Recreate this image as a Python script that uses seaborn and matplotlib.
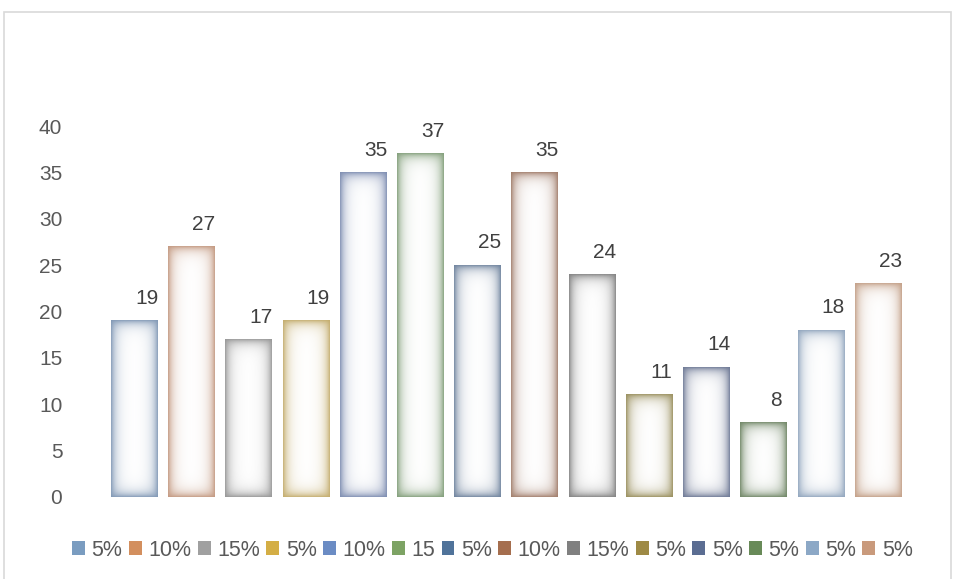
import numpy as np
import matplotlib
matplotlib.use("Agg")
import matplotlib.pyplot as plt
from matplotlib.patches import Patch, Rectangle
import seaborn as sns

# Bar values (left to right)
values = [19, 27, 17, 19, 35, 37, 25, 35, 24, 11, 14, 8, 18, 23]
# Legend entries, one per bar
legend_labels = ["5%", "10%", "15%", "5%", "10%", "15", "5%",
                 "10%", "15%", "5%", "5%", "5%", "5%", "5%"]
# Category keys for the x axis
categories = [f"c{i + 1}" for i in range(len(values))]
# Y axis ticks
y_ticks = [0, 5, 10, 15, 20, 25, 30, 35, 40]

# Glow colours around each bar and solid swatch colours in the legend
glow_colors = ["#8299b6", "#c49a82", "#989898", "#c4ad6e", "#7f8eb2", "#84a07c",
               "#71859f", "#a27e6c", "#848484", "#9b9160", "#6f7a96", "#728868",
               "#93a7bf", "#c4a189"]
swatch_colors = ["#7a9cc0", "#d38f5e", "#a0a0a0", "#d4ae45", "#6b8cc4", "#7da364",
                 "#50739a", "#a56e4e", "#808080", "#9e8a45", "#5b6d92", "#688a58",
                 "#8ca8c6", "#c99a7c"]

sns.set_theme(style="white")
plt.rcParams["font.family"] = ["Liberation Sans", "DejaVu Sans"]

W, H = 955, 579
fig = plt.figure(figsize=(W / 100, H / 100), dpi=100)
fig.patch.set_facecolor("white")

# light frame around the whole chart
fig.patches.append(Rectangle((4 / W, -10 / H), 947 / W, 577 / H, transform=fig.transFigure,
                             fill=False, edgecolor="#d9d9d9", linewidth=1.2))

ax = fig.add_axes([105.4 / W, (H - 497) / H, 801.2 / W, 371 / H])

sns.barplot(x=categories, y=values, hue=categories, palette=["white"] * len(values),
            width=0.81, legend=False, linewidth=0, ax=ax)

ax.set_xlim(-0.5, len(values) - 0.5)
ax.set_ylim(0, 40)

# soft inner glow in each bar's colour, fading toward the white centre
ppx = ax.transData.transform((1, 0))[0] - ax.transData.transform((0, 0))[0]
ppy = ax.transData.transform((0, 1))[1] - ax.transData.transform((0, 0))[1]


def profile(d):
    return 0.97 * np.exp(-d / 5.0)


for patch, col in zip(ax.patches, glow_colors):
    x0, w, h = patch.get_x(), patch.get_width(), patch.get_height()
    nw = max(int(round(w * ppx)), 2)
    nh = max(int(round(h * ppy)), 2)
    jx = np.arange(nw) + 0.5
    jy = np.arange(nh) + 0.5
    dx = np.minimum(jx, nw - jx)
    dy = np.minimum(jy, nh - jy)
    ax_ = profile(dx)[None, :]
    ay_ = profile(dy)[:, None]
    alpha = 1 - (1 - ax_) * (1 - ay_)
    rgb = np.array(matplotlib.colors.to_rgb(col))
    img = np.zeros((nh, nw, 4))
    img[..., :3] = rgb
    img[..., 3] = alpha
    ax.imshow(img, extent=(x0, x0 + w, 0, h), aspect="auto",
              interpolation="bilinear", zorder=2, origin="lower")

ax.set_xlim(-0.5, len(values) - 0.5)
ax.set_ylim(0, 40)

# value labels above the bars
for patch, v in zip(ax.patches, values):
    ax.annotate(f"{v}", (patch.get_x() + patch.get_width() / 2, v),
                xytext=(9, 12), textcoords="offset points",
                ha="center", va="baseline", fontsize=15, color="#404040",
                clip_on=False, zorder=5)

ax.set_yticks(y_ticks)
ax.set_yticklabels([str(t) for t in y_ticks])
ax.set_xticks([])
ax.set_xlabel("")
ax.set_ylabel("")
ax.tick_params(axis="y", length=0, pad=31, labelsize=15, labelcolor="#595959")
for s in ax.spines.values():
    s.set_visible(False)
ax.grid(False)

handles = [Patch(facecolor=c, edgecolor="none") for c in swatch_colors]
fig.legend(handles, legend_labels, loc="center", ncol=len(values),
           bbox_to_anchor=(492.5 / W, 1 - 550 / H), frameon=False,
           handlelength=0.6, handleheight=0.6, handletextpad=0.3,
           columnspacing=0.3, fontsize=15.5, labelcolor="#595959",
           borderaxespad=0, borderpad=0)

fig.savefig("out.png", dpi=100, facecolor="white")
